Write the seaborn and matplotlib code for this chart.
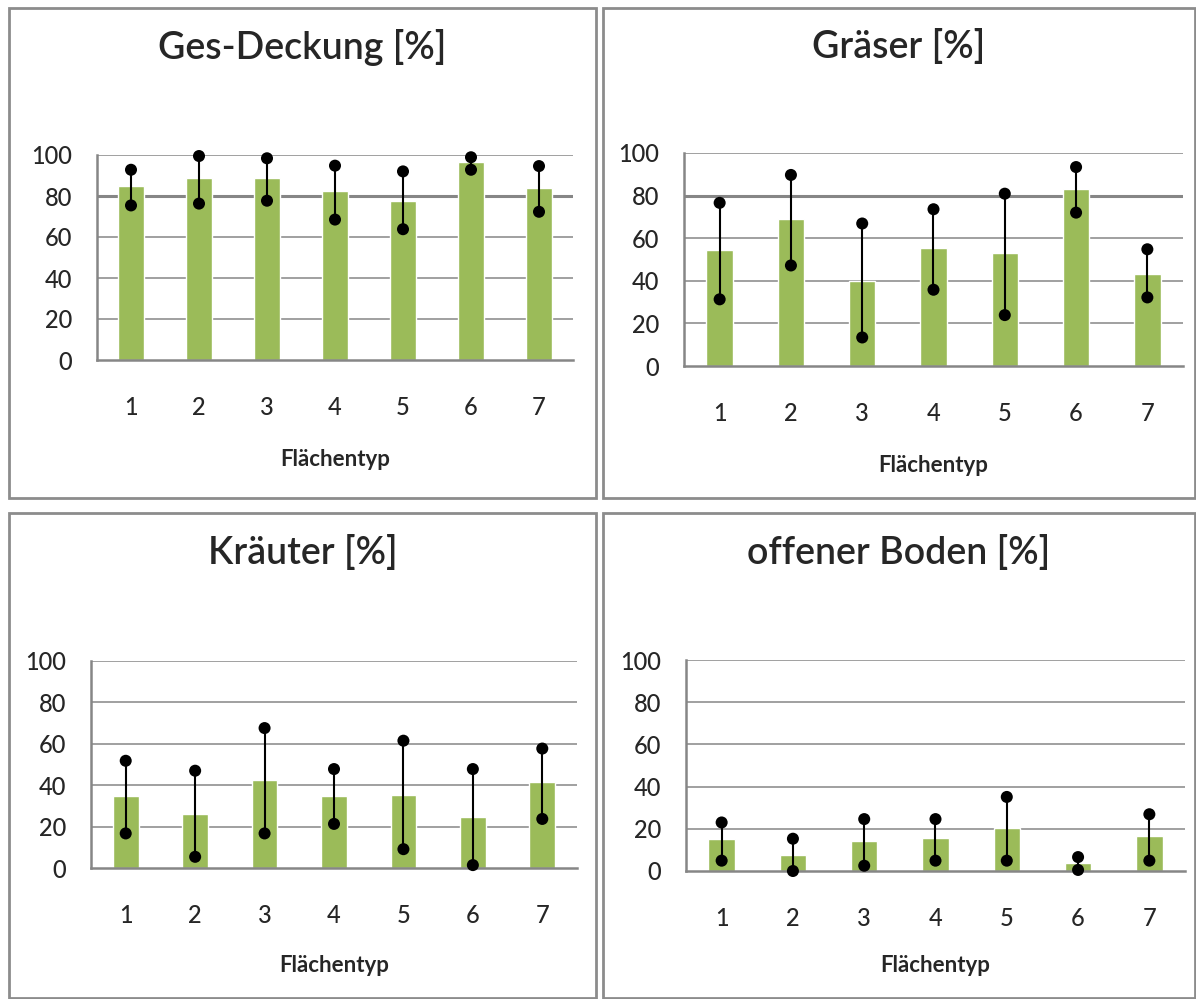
import matplotlib
matplotlib.use("Agg")
import matplotlib.pyplot as plt
from matplotlib.patches import Rectangle
import seaborn as sns
import numpy as np

# Flächentyp categories
flaechentyp = ['1', '2', '3', '4', '5', '6', '7']

# Ges-Deckung [%]
ges_mean = [84.8, 88.7, 88.7, 82.4, 77.5, 96.6, 83.8]
ges_lo = [75.4, 76.3, 77.7, 68.5, 63.8, 92.8, 72.3]
ges_hi = [92.8, 99.5, 98.4, 94.8, 92.0, 98.9, 94.6]

# Gräser [%]
gras_mean = [54.5, 68.8, 40.0, 55.3, 53.0, 83.0, 43.1]
gras_lo = [31.3, 47.2, 13.4, 35.8, 23.9, 72.0, 32.2]
gras_hi = [76.6, 89.7, 66.9, 73.6, 80.9, 93.4, 54.8]

# Kräuter [%]
kraut_mean = [34.9, 26.3, 42.6, 34.9, 35.4, 24.8, 41.7]
kraut_lo = [16.7, 5.4, 16.7, 21.3, 9.1, 1.4, 23.7]
kraut_hi = [51.8, 47.0, 67.6, 47.8, 61.5, 47.8, 57.7]

# offener Boden [%]
boden_mean = [15.3, 7.7, 14.3, 15.7, 20.5, 3.9, 16.7]
boden_lo = [4.9, 0.0, 2.5, 4.9, 4.9, 0.5, 4.9]
boden_hi = [23.0, 15.3, 24.6, 24.6, 35.1, 6.6, 26.9]

titles = ['Ges-Deckung [%]', 'Gräser [%]', 'Kräuter [%]', 'offener Boden [%]']
yticks = [0, 20, 40, 60, 80, 100]

sns.set_style("white")
plt.rcParams['font.family'] = ['Lato', 'DejaVu Sans']

W, H = 1196, 999
fig = plt.figure(figsize=(W / 100, H / 100), dpi=100)

GREEN = '#9bbb59'
GRID = '#868686'
BORDER = '#8c8c8c'


def px_box(l, t, r, b):
    return [l / W, 1 - b / H, (r - l) / W, (b - t) / H]


# panel frames (pixel coords: left, top, right, bottom)
frames = [(9, 8, 596, 498), (603, 8, 1195, 498),
          (9, 513, 596, 998), (603, 513, 1195, 998)]
axes_px = [(97, 155, 573, 360), (684, 153, 1183, 366),
           (91, 661, 577, 868), (686, 660, 1185, 871)]
title_y = [47, 47, 553, 553]
xlabel_y = [460, 465, 965, 965]

panels = [(ges_mean, ges_lo, ges_hi), (gras_mean, gras_lo, gras_hi),
          (kraut_mean, kraut_lo, kraut_hi), (boden_mean, boden_lo, boden_hi)]

for i, ((mean, lo, hi), title) in enumerate(zip(panels, titles)):
    fl, ft, fr, fb = frames[i]
    fig.patches.append(Rectangle((fl / W, 1 - fb / H), (fr - fl) / W, (fb - ft) / H,
                                 transform=fig.transFigure, fill=False,
                                 edgecolor=BORDER, linewidth=2))
    ax = fig.add_axes(px_box(*axes_px[i]))
    sns.barplot(x=flaechentyp, y=mean, color=GREEN, saturation=1, width=0.37, ax=ax)
    pos = np.arange(len(flaechentyp))
    ax.vlines(pos, lo, hi, color='black', linewidth=1.5, zorder=3, clip_on=False)
    sns.scatterplot(x=np.r_[pos, pos], y=np.r_[lo, hi], color='black', s=75,
                    edgecolor='none', zorder=4, clip_on=False, ax=ax, legend=False)
    ax.set_xlim(-0.5, len(flaechentyp) - 0.5)
    ax.set_ylim(0, 100)
    ax.set_yticks(yticks)
    ax.set_axisbelow(True)
    for v in yticks[1:]:
        lw = 2.2 if (v == 80 and i < 2) else 1.1
        ax.axhline(v, color=GRID, linewidth=lw, zorder=0)
    for s in ['top', 'right']:
        ax.spines[s].set_visible(False)
    for s in ['left', 'bottom']:
        ax.spines[s].set_color(GRID)
        ax.spines[s].set_linewidth(1.8)
    ax.tick_params(axis='x', length=0, pad=26, labelsize=17)
    ax.tick_params(axis='y', length=0, pad=18, labelsize=17)
    for lab in ax.get_xticklabels() + ax.get_yticklabels():
        lab.set_fontweight('medium')
    ax.set_ylabel('')
    al, at, ar, ab = axes_px[i]
    ax.set_xlabel('Flächentyp', fontsize=16, fontweight='bold')
    ax.xaxis.set_label_coords(0.5, (ab - xlabel_y[i]) / (ab - at))
    ax.xaxis.label.set_va('center')
    fig.text((fl + fr) / 2 / W, 1 - title_y[i] / H, title, ha='center', va='center',
             fontsize=27, fontweight='semibold')

fig.savefig('out.png', dpi=100)
